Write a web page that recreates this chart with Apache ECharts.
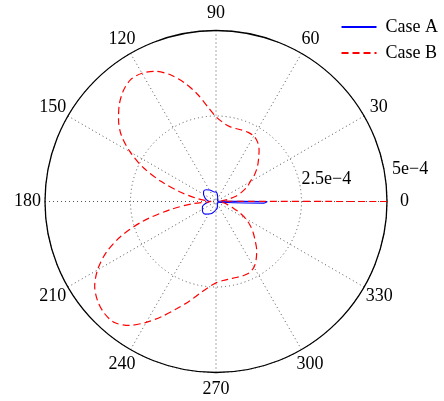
<!DOCTYPE html>
<html>
<head>
<meta charset="utf-8">
<script src="https://cdn.jsdelivr.net/npm/echarts@6/dist/echarts.min.js"></script>
<style>
  html, body { margin: 0; padding: 0; background: #fff; }
  #chart { width: 444px; height: 401px; }
</style>
</head>
<body>
<div id="chart"></div>
<script>
// 数据 (radius in units of 1e-4)
var anglesB = [0, 5, 10, 15, 20, 25, 30, 35, 40, 45, 50, 55, 60, 65, 70, 75, 80, 85, 90,
  95, 100, 105, 110, 115, 120, 125, 130, 135, 140, 145, 150, 155, 160, 165, 170, 175, 180,
  185, 190, 195, 200, 205, 210, 215, 220, 225, 230, 235, 240, 245, 250, 255, 260, 265, 270,
  275, 280, 285, 290, 295, 300, 305, 310, 315, 320, 325, 330, 335, 340, 345, 350, 355, 360];
var valuesB = [5.0, 0.15, 0.35, 0.6, 0.8, 1.0, 1.15, 1.38, 1.58, 1.76, 1.96, 2.12, 2.21, 2.23, 2.22, 2.21, 2.23, 2.32, 2.48,
  2.78, 3.2, 3.6, 3.95, 4.2, 4.33, 4.35, 4.22, 4.0, 3.72, 3.38, 2.9, 2.35, 1.7, 1.1, 0.62, 0.3, 0.15,
  0.65, 1.35, 2.2, 2.95, 3.55, 4.0, 4.33, 4.52, 4.62, 4.62, 4.42, 4.08, 3.7, 3.33, 3.02, 2.73, 2.52, 2.38,
  2.32, 2.3, 2.3, 2.31, 2.3, 2.22, 2.05, 1.85, 1.62, 1.42, 1.22, 1.0, 0.75, 0.5, 0.35, 0.22, 0.1, 0.05];

var anglesA = [0, 10, 20, 30, 40, 50, 60, 70, 80, 90, 100, 110, 120, 130, 140, 150, 160, 170, 180,
  190, 200, 210, 220, 230, 240, 250, 260, 270, 280, 290, 300, 310, 320, 330, 340, 350, 358, 360];
var valuesA = [1.5, 0.05, 0.05, 0.05, 0.06, 0.08, 0.1, 0.14, 0.22, 0.28, 0.28, 0.33, 0.39, 0.45, 0.47, 0.42, 0.35, 0.28, 0.2,
  0.3, 0.42, 0.46, 0.5, 0.48, 0.42, 0.37, 0.3, 0.24, 0.2, 0.12, 0.08, 0.06, 0.05, 0.05, 0.05, 0.05, 1.4, 1.5];

var angleTicks = [0, 30, 60, 90, 120, 150, 180, 210, 240, 270, 300, 330];
var radiusTicks = [0, 2.5e-4, 5e-4];
var radiusLabels = ['', '2.5e\u22124', '5e\u22124'];

function toPolar(angles, values) {
  return angles.map(function (a, i) { return [values[i] * 1e-4, a]; });
}

var font = 'Liberation Serif';
var fs = 18;
var R = 171;          // 极坐标半径
var labelMargin = -12;
var labelR = 188;     // 角度标签中心所在半径

// 角度标签居中在 labelR 上 (ECharts 按位置左/右对齐, 用 padding 补偿)
var angleRich = {};
angleTicks.forEach(function (a) {
  var rad = a * Math.PI / 180;
  var c = Math.cos(rad), s = Math.sin(rad);
  var r0 = R + labelMargin;
  var w = String(a).length * fs / 2, h = fs;
  var pad = [0, 0, 0, 0];
  var midX = Math.abs(c) * r0 / R < 0.3;
  var midY = Math.abs(s) * r0 / R < 0.3;
  if (!midX) {
    if (c > 0) pad[3] = labelR * c - w / 2 - r0 * c;
    else pad[1] = r0 * c - labelR * c - w / 2;
  }
  if (!midY) {
    if (s > 0) pad[2] = labelR * s - h / 2 - r0 * s;
    else pad[0] = -labelR * s - h / 2 + r0 * s;
  }
  pad = pad.map(function (p) { return Math.max(0, Math.round(p)); });
  angleRich['a' + a] = { fontFamily: font, fontSize: fs, color: '#000', padding: pad };
});

var chart = echarts.init(document.getElementById('chart'));
chart.setOption({
  animation: false,
  backgroundColor: '#fff',
  legend: {
    orient: 'vertical',
    right: 6,
    top: 18,
    padding: 0,
    itemWidth: 35,
    itemHeight: 14,
    itemGap: 8,
    itemStyle: { opacity: 0 },
    textStyle: { fontFamily: font, fontSize: fs, color: '#000', padding: [0, 0, 0, 4] },
    data: ['Case A', 'Case B']
  },
  polar: { center: [216, 201.5], radius: R },
  angleAxis: {
    type: 'value',
    min: 0,
    max: 360,
    interval: 30,
    startAngle: 0,
    clockwise: false,
    axisLine: { lineStyle: { color: '#000', width: 1.3 } },
    axisTick: { show: false },
    axisLabel: {
      margin: labelMargin,
      color: '#000',
      fontFamily: font,
      fontSize: fs,
      rich: angleRich,
      formatter: function (v) { return v === 360 ? '' : '{a' + v + '|' + v + '}'; }
    },
    splitLine: { lineStyle: { type: [1, 3], color: '#555', width: 1 } }
  },
  radiusAxis: {
    type: 'value',
    min: 0,
    max: 5e-4,
    interval: 2.5e-4,
    axisLine: { show: false },
    axisTick: { show: false },
    axisLabel: {
      margin: 13,
      color: '#000',
      fontFamily: font,
      fontSize: fs,
      align: 'left',
      verticalAlign: 'bottom',
      rich: {
        m: { fontFamily: font, fontSize: fs, color: '#000' },
        o: { fontFamily: font, fontSize: fs, color: '#000', padding: [0, 0, 10, 5] }
      },
      formatter: function (v) {
        var i = radiusTicks.findIndex(function (t) { return Math.abs(t - v) < 1e-9; });
        if (i <= 0) return '';
        return (i === radiusTicks.length - 1 ? '{o|' : '{m|') + radiusLabels[i] + '}';
      }
    },
    splitLine: { lineStyle: { type: [1, 3], color: '#555', width: 1 } }
  },
  series: [
    {
      name: 'Case A',
      type: 'line',
      coordinateSystem: 'polar',
      symbol: 'none',
      smooth: 0.3,
      lineStyle: { color: '#0000ff', width: 1.1 },
      itemStyle: { color: '#0000ff' },
      data: toPolar(anglesA, valuesA)
    },
    {
      name: 'Case B',
      type: 'line',
      coordinateSystem: 'polar',
      symbol: 'none',
      smooth: 0.3,
      lineStyle: { color: '#ff0000', width: 1.2, type: [7, 4] },
      itemStyle: { color: '#ff0000' },
      data: toPolar(anglesB, valuesB)
    }
  ]
});
</script>
</body>
</html>
